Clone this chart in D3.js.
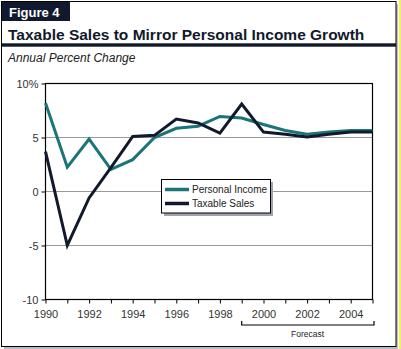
<!DOCTYPE html>
<html>
<head>
<meta charset="utf-8">
<script src="https://cdn.jsdelivr.net/npm/d3@7"></script>
<style>
  html, body { margin: 0; padding: 0; background: #fff; }
  svg { display: block; font-family: "Liberation Sans", Arial, sans-serif; }
</style>
</head>
<body>
<svg id="chart" width="401" height="349"></svg>
<script>
// Annual percent change, 1990 through 2005 (2000 onward is forecast)
const years = [1990, 1991, 1992, 1993, 1994, 1995, 1996, 1997, 1998, 1999, 2000, 2001, 2002, 2003, 2004, 2005];
const personalIncome = [8.2, 2.25, 4.85, 2.05, 2.95, 5.0, 5.85, 6.05, 6.95, 6.8, 6.2, 5.65, 5.3, 5.5, 5.65, 5.65];
const taxableSales  = [3.7, -5.0, -0.6, 2.2, 5.1, 5.2, 6.7, 6.35, 5.4, 8.1, 5.5, 5.3, 5.05, 5.3, 5.5, 5.5];
const yTicks = [10, 5, 0, -5, -10];
const yTickLabels = ["10%", "5", "0", "-5", "-10"];
const xTicks = [1990, 1992, 1994, 1996, 1998, 2000, 2002, 2004];
const forecastSpan = [1999, 2005];
const seriesNames = ["Personal Income", "Taxable Sales"];
const seriesColors = ["#1b7577", "#111a2c"];

const svg = d3.select("#chart");
const navy = "#111a2c";

// Page frame with drop shadow and side stripe
svg.append("rect").attr("x", 399).attr("y", 0).attr("width", 2).attr("height", 349).attr("fill", "#f2f25a");
svg.append("rect").attr("x", 4).attr("y", 4).attr("width", 394).attr("height", 345).attr("fill", "#b9bcc6");
svg.append("rect").attr("x", 1.5).attr("y", 1.5).attr("width", 394.5).attr("height", 345)
  .attr("fill", "#fff").attr("stroke", "#000").attr("stroke-width", 1);

// Header
svg.append("rect").attr("x", 2).attr("y", 2).attr("width", 68).attr("height", 19).attr("fill", navy);
svg.append("text").attr("x", 9).attr("y", 16.5).attr("fill", "#fff")
  .attr("font-size", 13).attr("font-weight", "bold").text("Figure 4");
svg.append("text").attr("x", 8).attr("y", 39.5).attr("fill", navy)
  .attr("font-size", 15.5).attr("font-weight", "bold")
  .text("Taxable Sales to Mirror Personal Income Growth");
svg.append("rect").attr("x", 2).attr("y", 43.3).attr("width", 394).attr("height", 3.4).attr("fill", navy);
svg.append("text").attr("x", 8).attr("y", 61.5).attr("fill", "#222")
  .attr("font-size", 12).attr("font-style", "italic").text("Annual Percent Change");

// Scales
const x = d3.scaleLinear().domain([1990, 2005]).range([45.5, 372.5]);
const y = d3.scaleLinear().domain([-10, 10]).range([299.5, 83.5]);

// Gridlines
svg.append("g").selectAll("line").data(yTicks.filter(v => v > -10 && v < 10)).join("line")
  .attr("x1", x(1990)).attr("x2", x(2005))
  .attr("y1", d => y(d)).attr("y2", d => y(d))
  .attr("stroke", "#9a9a9a").attr("stroke-width", 1);

// Axes
const yAxis = d3.axisLeft(y).tickValues(yTicks).tickSize(4).tickPadding(3)
  .tickFormat((d, i) => yTickLabels[i]);
const gy = svg.append("g").attr("transform", `translate(${x(1990)},0)`).call(yAxis);
const xAxis = d3.axisBottom(x).tickValues(d3.range(1990, 2006)).tickSize(4).tickPadding(7)
  .tickFormat(d => xTicks.includes(d) ? String(d) : "");
const gx = svg.append("g").attr("transform", `translate(0,${y(-10)})`).call(xAxis);
[gx, gy].forEach(g => {
  g.select(".domain").remove();
  g.selectAll(".tick line").attr("stroke", "#000");
  g.selectAll(".tick text").attr("fill", "#333").attr("font-size", 11)
    .attr("font-family", "Liberation Sans, Arial, sans-serif");
});

// Plot frame
svg.append("rect").attr("x", x(1990)).attr("y", y(10))
  .attr("width", x(2005) - x(1990)).attr("height", y(-10) - y(10))
  .attr("fill", "none").attr("stroke", "#000").attr("stroke-width", 1.2);

// Series lines
const line = d3.line().x((d, i) => x(years[i])).y(d => y(d));
[personalIncome, taxableSales].forEach((vals, k) => {
  svg.append("path").datum(vals).attr("d", line)
    .attr("fill", "none").attr("stroke", seriesColors[k])
    .attr("stroke-width", 3).attr("stroke-linejoin", "miter");
});

// Legend
const lg = svg.append("g").attr("transform", "translate(161,179)");
lg.append("rect").attr("x", 3).attr("y", 3).attr("width", 109).attr("height", 34).attr("fill", "#9ea3b4");
lg.append("rect").attr("x", 0.5).attr("y", 0.5).attr("width", 109).attr("height", 33.5)
  .attr("fill", "#fff").attr("stroke", "#000").attr("stroke-width", 1);
seriesNames.forEach((name, k) => {
  const yy = 10.5 + k * 14;
  lg.append("line").attr("x1", 4).attr("x2", 28).attr("y1", yy).attr("y2", yy)
    .attr("stroke", seriesColors[k]).attr("stroke-width", 3.5);
  lg.append("text").attr("x", 31).attr("y", yy + 3.6).attr("font-size", 10)
    .attr("fill", "#222").text(name);
});

// Forecast bracket
const by = 325;
svg.append("path")
  .attr("d", `M${x(forecastSpan[0])},${by - 4}V${by}H${x(forecastSpan[1]) + 1.5}V${by - 4}`)
  .attr("fill", "none").attr("stroke", "#000").attr("stroke-width", 1.2);
svg.append("text").attr("x", (x(forecastSpan[0]) + x(forecastSpan[1])) / 2 + 0.5).attr("y", 336.5)
  .attr("text-anchor", "middle").attr("font-size", 8.5).attr("fill", "#222").text("Forecast");
</script>
</body>
</html>
